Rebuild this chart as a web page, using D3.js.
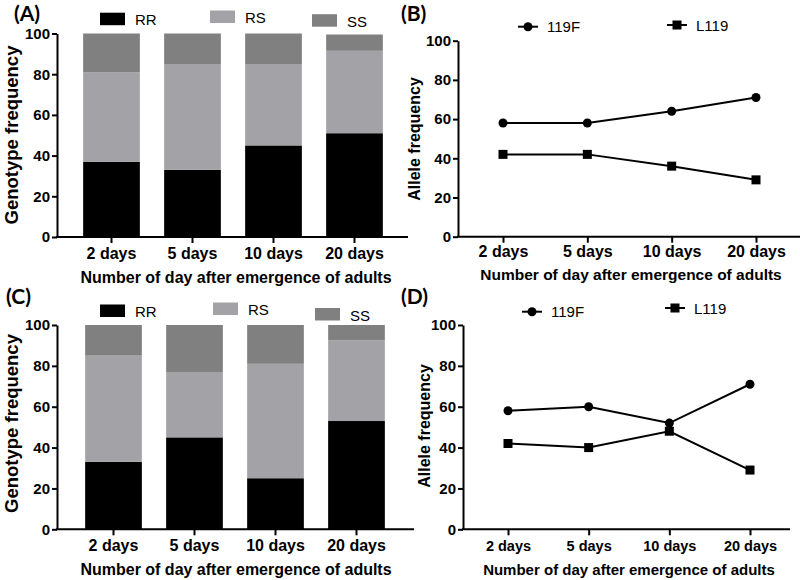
<!DOCTYPE html>
<html><head><meta charset="utf-8">
<script src="https://cdn.jsdelivr.net/npm/d3@7"></script>
<style>body{margin:0;background:#fff} svg{display:block} text{font-family:"Liberation Sans",Arial,sans-serif}</style>
</head><body><svg id="c" width="800" height="580"></svg>
<script>
// ---------- data ----------
const categories = ["2 days","5 days","10 days","20 days"];
const genotypes = ["RR","RS","SS"];
const alleles = ["119F","L119"];
const yTicks = [0,20,40,60,80,100];
const panelA_RR = [37,33,45,51];
const panelA_RS = [44,52,40,40.5];
const panelA_SS = [19,15,15,8];
const panelB_119F = [58,58,64,71];
const panelB_L119 = [42,42,36,29];
const panelC_RR = [33,45,25,53];
const panelC_RS = [52,32,56,39.5];
const panelC_SS = [15,23,19,7.5];
const panelD_119F = [58,60,52,71];
const panelD_L119 = [42,40,48,29];
const xTitle = "Number of day after emergence of adults";

const genoColors = {RR:"#000000", RS:"#a3a3a7", SS:"#808080"};
const svg = d3.select("#c");

function panelLetter(txt, x, y){
  svg.append("text").attr("x",x).attr("y",y).text(txt)
    .style("font-family","Lato,'Open Sans',sans-serif").style("font-weight","bold").style("font-size","21px");
}

function drawAxes(cfg, x, y){
  const g = svg.append("g");
  const ya = g.append("g").attr("transform",`translate(${cfg.axisX},0)`)
    .call(d3.axisLeft(y).tickValues(yTicks).tickSize(5).tickSizeOuter(0).tickPadding(2));
  ya.selectAll("path,line").attr("stroke","#000").attr("stroke-width",2);
  ya.selectAll("text").style("font-size","15px").style("font-weight","bold").attr("fill","#000");
  const xa = g.append("g").attr("transform",`translate(0,${cfg.y0})`)
    .call(d3.axisBottom(x).tickSize(6).tickSizeOuter(0).tickPadding(5));
  xa.select(".domain").remove();
  xa.append("line").attr("x1",cfg.axisX-1).attr("x2",cfg.axisEnd).attr("stroke","#000").attr("stroke-width",2);
  xa.selectAll(".tick line").attr("stroke","#000").attr("stroke-width",2);
  xa.selectAll("text").style("font-size",cfg.tickFont+"px").style("font-weight","bold").attr("fill","#000")
    .attr("dy",null).attr("y",cfg.tickDy);
  svg.append("text").attr("x",(cfg.titleCx)).attr("y",cfg.titleY).attr("text-anchor","middle")
    .style("font-size",cfg.titleFont+"px").style("font-weight","bold").text(xTitle);
  svg.append("text").attr("transform",`translate(${cfg.ylabX},${cfg.ylabCy}) rotate(-90)`)
    .attr("text-anchor","middle").style("font-size",cfg.ylabFont+"px").style("font-weight","bold").text(cfg.ylab);
}

function barPanel(cfg, RR, RS, SS){
  const rows = categories.map((c,i)=>({cat:c, RR:RR[i], RS:RS[i], SS:SS[i]}));
  const x = d3.scaleBand().domain(categories).range(cfg.bandRange).paddingInner(0.3).paddingOuter(0.15);
  const y = d3.scaleLinear().domain([0,100]).range([cfg.y0, cfg.y100]);
  const series = d3.stack().keys(genotypes)(rows);
  svg.append("g").selectAll("g").data(series).join("g").attr("fill",d=>genoColors[d.key])
    .selectAll("rect").data(d=>d).join("rect")
    .attr("x",d=>x(d.data.cat)).attr("width",x.bandwidth())
    .attr("y",d=>y(d[1])).attr("height",d=>y(d[0])-y(d[1]));
  drawAxes(cfg, x, y);
  genotypes.forEach((k,i)=>{
    const L = cfg.legend[i];
    svg.append("rect").attr("x",L.x).attr("y",L.y).attr("width",25).attr("height",12.5).attr("fill",genoColors[k]);
    svg.append("text").attr("x",L.x+35).attr("y",L.y+12.5).style("font-size","15px").text(k);
  });
  panelLetter(cfg.letter, cfg.letterX, cfg.letterY);
}

function linePanel(cfg, A, B){
  const x = d3.scalePoint().domain(categories).range(cfg.pointRange);
  const y = d3.scaleLinear().domain([0,100]).range([cfg.y0, cfg.y100]);
  drawAxes(cfg, x, y);
  const line = d3.line().x((d,i)=>x(categories[i])).y(d=>y(d));
  const g = svg.append("g");
  [A,B].forEach((vals,si)=>{
    g.append("path").datum(vals).attr("d",line).attr("fill","none").attr("stroke","#000").attr("stroke-width",2);
    vals.forEach((v,i)=>{
      if(si===0) g.append("circle").attr("cx",x(categories[i])).attr("cy",y(v)).attr("r",4.5).attr("fill","#000");
      else g.append("rect").attr("x",x(categories[i])-4.5).attr("y",y(v)-4.5).attr("width",9).attr("height",9).attr("fill","#000");
    });
  });
  alleles.forEach((k,i)=>{
    const L = cfg.legend[i];
    g.append("line").attr("x1",L.x).attr("x2",L.x+20).attr("y1",L.y).attr("y2",L.y).attr("stroke","#000").attr("stroke-width",2);
    if(i===0) g.append("circle").attr("cx",L.x+10).attr("cy",L.y).attr("r",4.5);
    else g.append("rect").attr("x",L.x+5.5).attr("y",L.y-4.5).attr("width",9).attr("height",9);
    g.append("text").attr("x",L.x+29).attr("y",L.y+5.5).style("font-size","15px").text(k);
  });
  panelLetter(cfg.letter, cfg.letterX, cfg.letterY);
}

barPanel({letter:"(A)", letterX:14, letterY:21, axisX:57, axisEnd:408, y0:237, y100:33.5,
  bandRange:[71,395], tickFont:16, tickDy:22, titleCx:236, titleY:283, titleFont:16,
  ylab:"Genotype frequency", ylabX:18, ylabCy:135, ylabFont:18.5,
  legend:[{x:100,y:12.7},{x:210,y:10.5},{x:312,y:14.2}]}, panelA_RR, panelA_RS, panelA_SS);

linePanel({letter:"(B)", letterX:401, letterY:21, axisX:458, axisEnd:800, y0:236.7, y100:40.7,
  pointRange:[503,756], tickFont:16, tickDy:20, titleCx:631, titleY:280, titleFont:15.5,
  ylab:"Allele frequency", ylabX:420, ylabCy:139, ylabFont:16,
  legend:[{x:518,y:26.7},{x:667,y:25}]}, panelB_119F, panelB_L119);

barPanel({letter:"(C)", letterX:6, letterY:304, axisX:57, axisEnd:414, y0:529.3, y100:325,
  bandRange:[73,397], tickFont:16, tickDy:22, titleCx:236, titleY:575, titleFont:16,
  ylab:"Genotype frequency", ylabX:18, ylabCy:423.5, ylabFont:18.5,
  legend:[{x:100,y:304.5},{x:213,y:302.5},{x:315,y:308}]}, panelC_RR, panelC_RS, panelC_SS);

linePanel({letter:"(D)", letterX:401, letterY:304, axisX:463, axisEnd:790, y0:529.3, y100:325,
  pointRange:[508,750], tickFont:14.5, tickDy:22, titleCx:629, titleY:575, titleFont:15,
  ylab:"Allele frequency", ylabX:430, ylabCy:426, ylabFont:16,
  legend:[{x:522,y:311.7},{x:665,y:308}]}, panelD_119F, panelD_L119);
</script></body></html>
